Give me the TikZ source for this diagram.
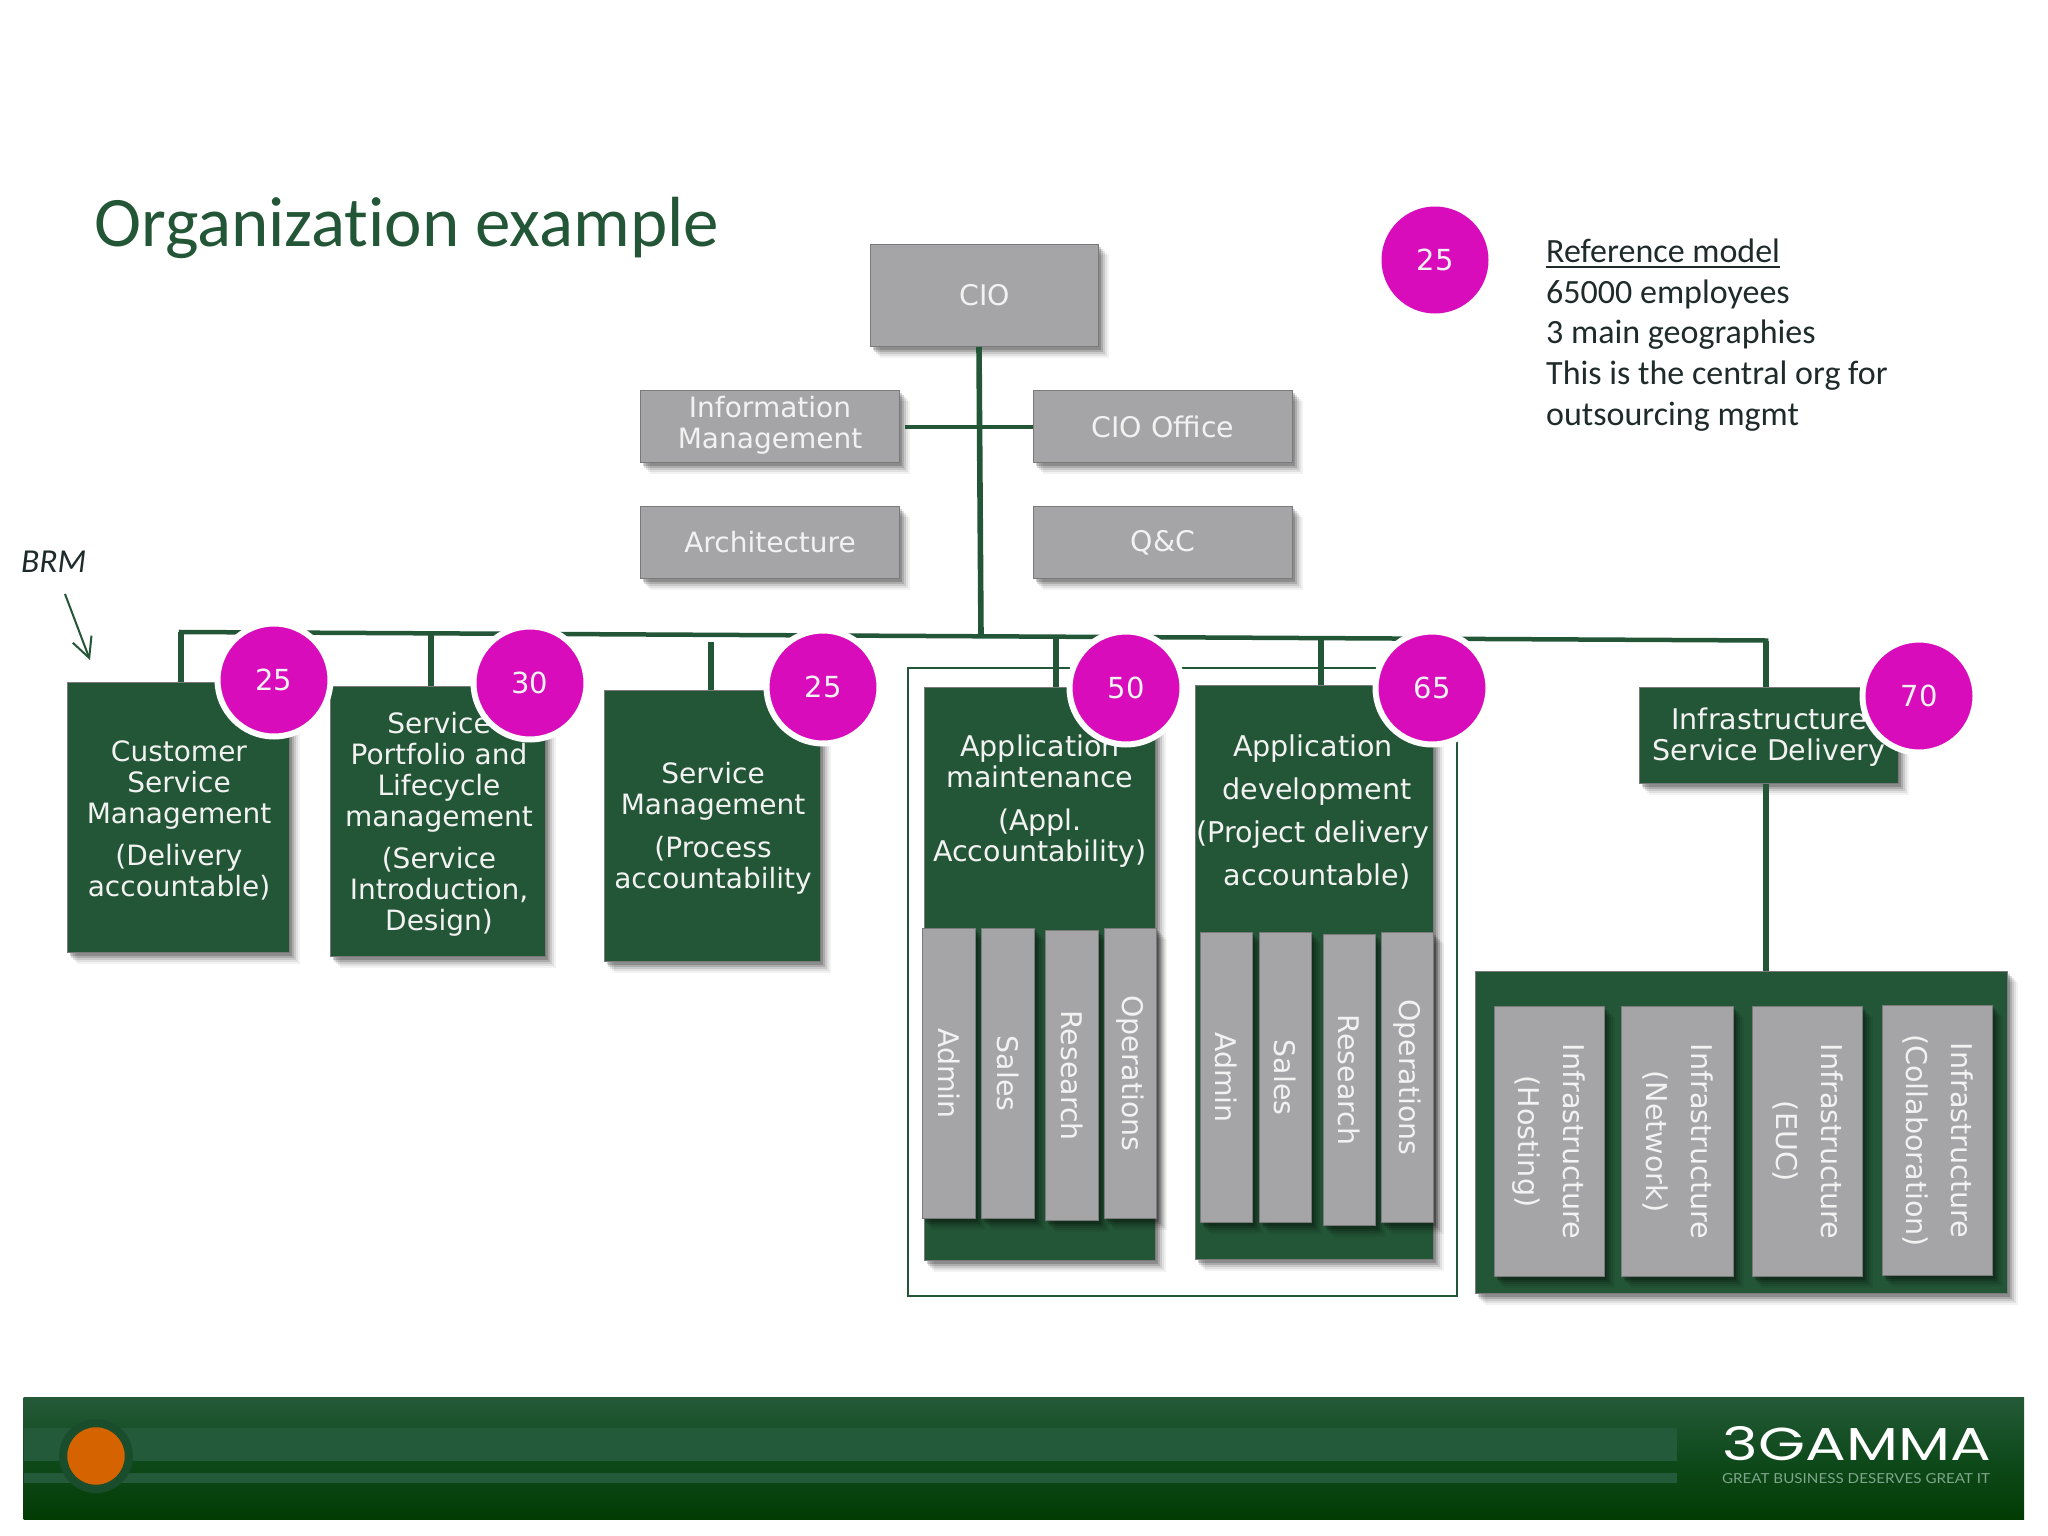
\documentclass[tikz,border=0pt]{standalone}
\usepackage{fontspec}
\usepackage{graphicx}
\setmainfont{DejaVu Sans}
\newfontfamily\calfont[Ligatures=NoCommon]{Carlito}
\newfontfamily\logofont{Poppins}
\newfontfamily\tagfont{Lato}
\definecolor{grn}{HTML}{235636}
\definecolor{gry}{HTML}{A5A5A7}
\definecolor{bord}{HTML}{7A7A7A}
\definecolor{mag}{HTML}{D90CBC}
\definecolor{gtxt}{HTML}{1F2A2A}
\definecolor{lt}{HTML}{F2F2F2}
\definecolor{ftop}{HTML}{245A38}
\definecolor{fmid}{HTML}{0F4A1C}
\definecolor{fbot}{HTML}{023C03}
\definecolor{stripe}{HTML}{235A39}
\definecolor{halo}{HTML}{1A4D2B}
\definecolor{orng}{HTML}{D46300}
\definecolor{tagc}{HTML}{7FA68C}
\usetikzlibrary{arrows.meta}
\newcommand{\bx}[7]{\node[#6,minimum width={(#4-#2-0.8)*1pt},minimum height={(#5-#3-0.8)*1pt}] (#1) at ({(#2+#4)/2},{(#3+#5)/2}) {#7};}
\newcommand{\vlab}[1]{\rotatebox[origin=c]{-90}{#1}}
\newcommand{\vlabb}[2]{\rotatebox[origin=c]{-90}{\fontsize{28.6}{45}\selectfont\begin{tabular}{@{}c@{}}#1\\#2\end{tabular}}}
\newcommand{\badgetext}[1]{\raisebox{-1.5pt}{#1}}
\tikzset{
  softshadow/.style={
    preaction={fill=black,opacity=.05,draw=none,transform canvas={shift={(10pt,-11pt)}}},
    preaction={fill=black,opacity=.07,draw=none,transform canvas={shift={(8pt,-9pt)}}},
    preaction={fill=black,opacity=.10,draw=none,transform canvas={shift={(6pt,-7pt)}}},
    preaction={fill=black,opacity=.14,draw=none,transform canvas={shift={(4pt,-5pt)}}},
    preaction={fill=black,opacity=.18,draw=none,transform canvas={shift={(2.5pt,-3pt)}}}},
  basebox/.style={rectangle,inner sep=0pt,outer sep=0pt,draw=bord,line width=1.6pt,softshadow,text=lt,font=\fontsize{28.4}{31}\selectfont,align=center},
  greenbox/.style={basebox,fill=grn},
  graybox/.style={basebox,fill=gry},
  lab/.style={text=lt,font=\fontsize{28}{31}\selectfont,align=center,inner sep=0pt},
  labmid/.style={text=lt,font=\fontsize{28.5}{31}\selectfont,align=center,inner sep=0pt},
  labwide/.style={text=lt,font=\fontsize{28.6}{43}\selectfont,align=center,inner sep=0pt},
  conn/.style={draw=grn,line width=5.6pt},
  busline/.style={draw=grn,line width=4.5pt,line cap=rect},
  badge/.style={circle,fill=mag,draw=white,line width=6pt,minimum size=113pt,inner sep=0pt,text=lt,font=\fontsize{29}{30}\selectfont},
  badgeplain/.style={circle,fill=mag,minimum size=107pt,inner sep=0pt,text=lt,font=\fontsize{29}{30}\selectfont},
  noteline/.style={anchor=base west,inner sep=0pt,text=gtxt,font=\calfont\fontsize{34}{36}\selectfont},
}
\begin{document}
\begin{tikzpicture}[x=1pt,y=-1pt]
\useasboundingbox (0,0) rectangle (2048,1536);
\fill[white] (0,0) rectangle (2048,1536);

% title
\node[anchor=base west,inner sep=0pt,text=grn,font=\calfont\fontsize{71}{74}\selectfont] (title) at (94,246) {Organization example};

% outlined group
\node[rectangle,draw=grn,line width=2.6pt,inner sep=0pt,outer sep=0pt,minimum width=549pt,minimum height=628pt] (group) at (1182.5,982) {};

% top boxes
\bx{cio}{870}{244}{1099}{347}{graybox}{CIO}
\bx{info}{640}{390}{900}{463}{graybox}{\raisebox{-5pt}{\fontsize{28}{31}\selectfont\begin{tabular}{@{}c@{}}Information\\Management\end{tabular}}}
\bx{office}{1033}{390}{1293}{463}{graybox}{CIO Office}
\bx{arch}{640}{506}{900}{579}{graybox}{\fontsize{28}{31}\selectfont Architecture}
\bx{qc}{1033}{506}{1293}{579}{graybox}{\raisebox{-1pt}{Q\&C}}

% connector coordinates
\coordinate (busL) at (181,632);
\coordinate (busR) at (1766,640.5);
\coordinate (d2) at (431,634);
\coordinate (d3) at (711,642);
\coordinate (d4) at (1056,637);
\coordinate (d5) at (1321,639);
\coordinate (cioT) at (979,347);
\coordinate (cioB) at (981,636);
\coordinate (infoStub) at (905,427);
\coordinate (brmFrom) at (65,594);
\coordinate (brmTo) at (90,660);

% green boxes
\bx{csm}{67}{682}{290}{953}{greenbox}{}
\bx{spl}{330}{686}{546}{957}{greenbox}{}
\bx{sm}{604}{690}{821}{962}{greenbox}{}
\bx{am}{924}{687}{1156}{1261}{greenbox}{}
\bx{ad}{1195}{685}{1434}{1260}{greenbox}{}
\bx{isd}{1639}{687}{1899}{784}{greenbox}{}
\bx{infra}{1475}{971}{2008}{1294}{greenbox}{}

% connectors
\draw[busline] (busL) -- (busR);
\draw[conn] (cioT) -- (cioB);
\draw[conn,line width=4.5pt] (infoStub) -- (infoStub -| office.west);
\draw[conn] (busL) -- (busL |- csm.north);
\draw[conn] (d2) -- (d2 |- spl.north);
\draw[conn] (d3) -- (d3 |- sm.north);
\draw[conn] (d4) -- (d4 |- am.north);
\draw[conn] (d5) -- (d5 |- ad.north);
\draw[conn] (busR) -- (busR |- isd.north);
\draw[conn] (busR |- isd.south) -- (busR |- infra.north);

% green box labels
\node[lab] (csmT) at (179,820) {Customer\\Service\\Management\\[11pt](Delivery\\accountable)};
\node[lab] (splT) at (439,824) {Service\\Portfolio and\\Lifecycle\\management\\[11pt](Service\\Introduction,\\Design)};
\node[lab] (smT) at (713,828) {Service\\Management\\[12pt](Process\\accountability};
\node[labmid] (amT) at (1040,801) {Application\\maintenance\\[12pt](Appl.\\Accountability)};
\node[labwide] (adT) at (1313,812) {Application\\\hspace*{8pt}development\\(Project delivery\\\hspace*{8pt}accountable)};
\node[labmid] (isdT) at (1769,737) {Infrastructure\\Service Delivery};

% application bars
\bx{a1}{922}{928}{976}{1219}{graybox}{\vlab{Admin}}
\bx{a2}{981}{928}{1035}{1219}{graybox}{\vlab{Sales}}
\bx{a3}{1045}{930}{1099}{1221}{graybox}{\vlab{Research}}
\bx{a4}{1104}{928}{1157}{1219}{graybox}{\vlab{Operations}}
\bx{b1}{1200}{932}{1253}{1223}{graybox}{\vlab{Admin}}
\bx{b2}{1259}{932}{1312}{1223}{graybox}{\vlab{Sales}}
\bx{b3}{1323}{934}{1376}{1226}{graybox}{\vlab{Research}}
\bx{b4}{1381}{932}{1434}{1223}{graybox}{\vlab{Operations}}

% infrastructure bars
\bx{c1}{1494}{1006}{1605}{1277}{graybox}{\vlabb{Infrastructure}{(Hosting)}}
\bx{c2}{1621}{1006}{1734}{1277}{graybox}{\vlabb{Infrastructure}{(Network)}}
\bx{c3}{1752}{1006}{1863}{1277}{graybox}{\vlabb{Infrastructure}{(EUC)}}
\bx{c4}{1882}{1005}{1993}{1276}{graybox}{\vlabb{Infrastructure}{(Collaboration)}}

% badges
\node[badge] (n1) at (274,680) {\badgetext{25}};
\node[badge] (n2) at (530,683) {\badgetext{30}};
\node[badge] (n3) at (823,687) {\badgetext{25}};
\node[badge] (n4) at (1126,688) {\badgetext{50}};
\node[badge] (n5) at (1432,688) {\badgetext{65}};
\node[badge] (n6) at (1919,696) {\badgetext{70}};
\node[badgeplain] (n0) at (1435,260) {\badgetext{25}};

% note
\node[noteline] (r1) at (1546,262) {Reference model};
\draw[gtxt,line width=2pt] ([yshift=-5pt]r1.base west) -- ([yshift=-5pt]r1.base east);
\node[noteline] (r2) at (1546,303) {65000 employees};
\node[noteline] (r3) at (1546,343) {3 main geographies};
\node[noteline] (r4) at (1546,384) {This is the central org for};
\node[noteline] (r5) at (1546,425) {outsourcing mgmt};

% BRM
\node[anchor=base west,inner sep=0pt,text=gtxt,font=\calfont\itshape\fontsize{33.5}{35}\selectfont] (brm) at (21,572) {BRM};
\draw[grn,line width=2pt,-{Straight Barb[length=20pt,width=20pt]}] (brmFrom) -- (brmTo);

% footer
\shade[top color=ftop,bottom color=fbot,middle color=fmid] (23.5,1397) rectangle (2024,1519);
\fill[stripe] (23.5,1428) rectangle (1677,1461);
\fill[stripe] (23.5,1473) rectangle (1677,1483);
\fill[halo] (96,1456) circle[radius=37];
\fill[orng] (96,1456) circle[radius=28.7];
\node[inner sep=0pt,text=white] (logo) at (1857,1444) {\resizebox{268pt}{34pt}{\logofont 3GAMMA}};
\node[inner sep=0pt,text=tagc] (tag) at (1856,1479) {\resizebox{268pt}{10pt}{\tagfont GREAT BUSINESS DESERVES GREAT IT}};
\end{tikzpicture}
\end{document}
